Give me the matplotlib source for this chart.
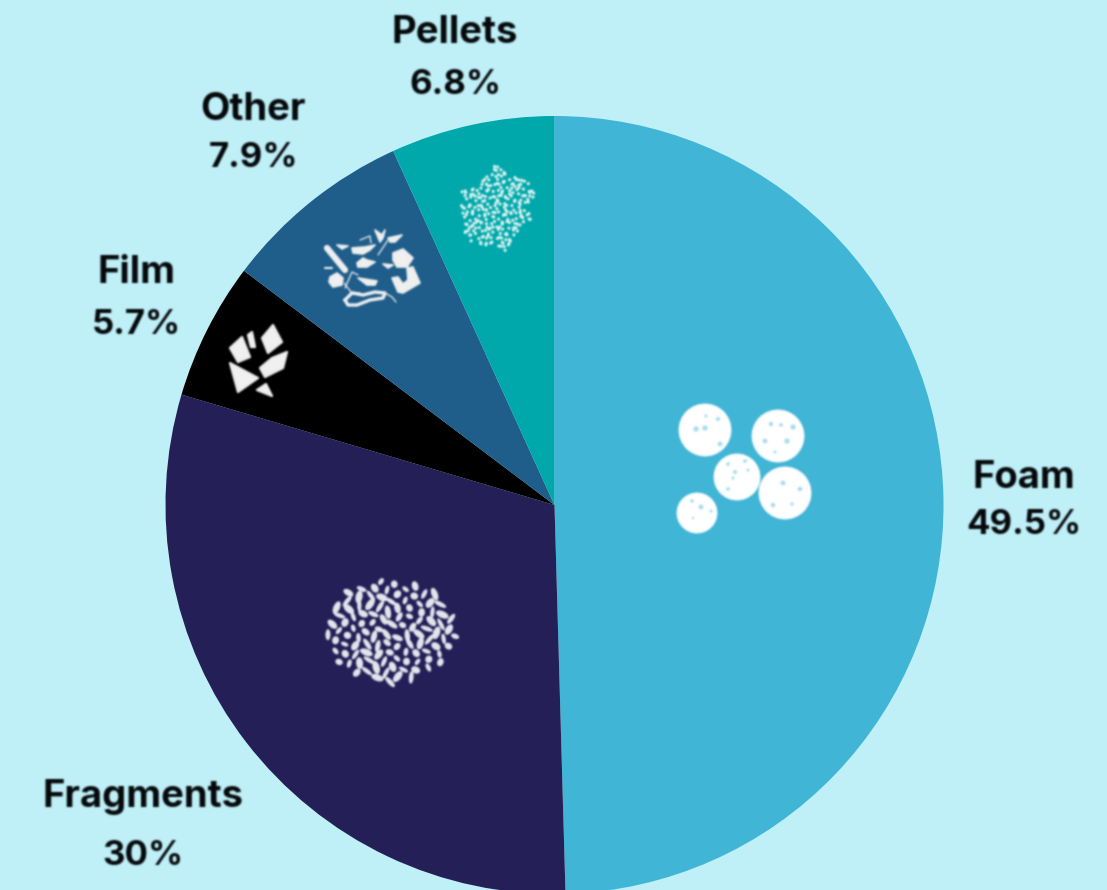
import numpy as np
import matplotlib
matplotlib.use('Agg')
import matplotlib.pyplot as plt
from matplotlib.collections import PatchCollection, LineCollection
from matplotlib.patches import Circle, Ellipse, Polygon
from matplotlib.path import Path

categories = ['Foam', 'Fragments', 'Film', 'Other', 'Pellets']
shares = [49.5, 30, 5.7, 7.9, 6.8]
share_labels = ['49.5%', '30%', '5.7%', '7.9%', '6.8%']
colors = ['#40b5d6', '#241f57', '#000000', '#1f5e8b', '#00a8ab']

bg = '#bff0f8'
ink = '#05080a'
chip = '#f0f0f0'


# the reference is a soft upscaled picture, so text and icons get a small blur
def soft(img, dpi):
    pad = 4
    a = np.pad(img[:, :, 3], pad)
    rgb = img[:, :, :3].reshape(-1, 3)[img[:, :, 3].ravel().argmax()]
    for axis in (0, 1):
        a = sum(w * np.roll(a, s, axis) for s, w in
                zip([-2, -1, 0, 1, 2], [0.05, 0.24, 0.42, 0.24, 0.05]))
    out = np.zeros(a.shape + (4,))
    out[:, :, :3] = rgb
    out[:, :, 3] = a
    return out, -pad, -pad


def add_patches(patches, color, lw=0.6):
    pc = PatchCollection(patches, facecolor=color, edgecolor=color, linewidth=lw)
    pc.set_agg_filter(soft)
    ax.add_collection(pc, autolim=False)


# axes run in image pixels, y pointing down
fig = plt.figure(figsize=(11.07, 8.90), dpi=100, facecolor=bg)
ax = fig.add_axes([0, 0, 1, 1])
ax.pie(shares, colors=colors, startangle=-90, counterclock=True,
       center=(554.5, 505), radius=389, wedgeprops={'linewidth': 0})
ax.set_xlim(0, 1107)
ax.set_ylim(890, 0)
ax.set_aspect('equal')
ax.axis('off')

# labels
name_pos = [(1024, 478), (143, 797), (136, 273), (253, 110), (455, 33)]
value_pos = [(1024, 525), (143, 856), (136, 325), (253, 158), (455, 85)]
for name, val, np_, vp in zip(categories, share_labels, name_pos, value_pos):
    for pos, s, size in ((np_, name, 27.5), (vp, val, 25)):
        t = ax.text(pos[0], pos[1], s, ha='center', va='center', fontsize=size,
                    family='Inter', weight='bold', color=ink)
        t.set_agg_filter(soft)

# foam icon
foam_balls = [(705, 430, 26), (778, 436, 26), (737, 477, 23), (785, 493, 26), (697, 513, 20)]
foam_specks = [(705, 428, 2.6), (696, 429, 2.6), (718, 419, 2), (720, 444, 2.4), (706, 416, 1.6),
               (771, 424, 2.2), (781, 425, 1.8), (765, 441, 2.4), (787, 441, 2.6), (793, 427, 2.6),
               (775, 452, 1.5), (735, 472, 2), (728, 464, 1.8), (745, 461, 1.8), (748, 470, 1.5),
               (728, 489, 1.8), (733, 478, 1.5), (783, 483, 2.4), (800, 489, 2.2), (773, 505, 2.2),
               (792, 504, 1.6), (701, 507, 2.4), (692, 501, 1.8), (711, 511, 1.5), (693, 518, 1.2)]
add_patches([Circle((x, y), r) for x, y, r in foam_balls], 'white')
add_patches([Circle((x, y), r) for x, y, r in foam_specks], '#a5dcee', lw=0)

# film icon
film_chips = [
    [(230, 348), (242, 337), (250, 357), (238, 362)],
    [(248, 335), (252, 332), (255, 347), (251, 347)],
    [(262, 338), (273, 325), (282, 342), (268, 353)],
    [(260, 368), (272, 358), (287, 352), (283, 368), (265, 377)],
    [(230, 363), (258, 378), (238, 392)],
    [(257, 390), (266, 384), (272, 396)],
]
add_patches([Polygon(p, closed=True) for p in film_chips], chip, lw=1.6)

# other icon: odd shapes and strings
other_polys = [
    [(375, 230), (382, 235), (385, 230), (383, 238), (380, 242)],
    [(388, 238), (402, 235), (395, 242), (390, 242)],
    [(352, 248), (365, 247), (375, 245), (370, 250), (363, 254), (353, 253)],
    [(337, 245), (348, 246), (342, 249)],
    [(357, 263), (363, 258), (367, 260), (375, 262), (367, 267), (358, 267)],
    [(393, 253), (403, 249), (413, 258), (407, 267), (397, 267), (393, 260)],
    [(383, 264), (393, 265), (388, 268)],
    [(330, 277), (337, 273), (343, 278), (342, 285), (333, 287), (329, 282)],
    [(358, 278), (377, 281), (375, 285), (367, 285)],
    [(392, 278), (398, 277), (403, 284), (408, 280), (407, 268), (413, 267), (420, 283), (403, 293), (398, 292)],
]
add_patches([Polygon(p, closed=True) for p in other_polys], chip, lw=1.2)
other_strokes = [
    [(327, 248), (345, 270)],
    [(325, 268), (332, 268)],
    [(345, 288), (352, 272), (358, 275)],
    [(344, 283), (351, 292), (360, 293)],
    [(378, 255), (388, 240)],
    [(360, 240), (370, 236), (371, 243)],
    [(385, 293), (392, 297), (396, 302)],
    [(345, 300), (352, 293), (363, 295), (375, 292), (385, 293), (383, 298),
     (370, 300), (357, 305), (348, 305), (345, 300)],
]
strokes = LineCollection(other_strokes, colors=chip, capstyle='round',
                         linewidths=[4.5, 1.5, 0.9, 0.9, 0.9, 0.9, 0.9, 2.4])
strokes.set_agg_filter(soft)
ax.add_collection(strokes, autolim=False)

# pellets icon: dots inside a rough star outline
star = Path([(496, 163), (510, 175), (522, 178), (538, 191), (527, 205), (531, 222),
             (515, 233), (508, 254), (490, 246), (464, 245), (463, 218), (459, 192),
             (478, 186), (496, 163)])
golden = np.pi * (3 - np.sqrt(5))
pellets = []
for i in range(1, 340):
    a = i * golden + 0.5 * np.sin(i * 12.9898)
    d = 2.35 * np.sqrt(i) + 1.2 * np.sin(i * 4.1414)
    p = (498 + d * np.cos(a), 208 + d * np.sin(a))
    if star.contains_point(p):
        pellets.append(Circle(p, 1.55))
add_patches(pellets, '#e8f7f5', lw=0)

# fragments icon: leaning flakes in an oval
flakes = []
for i in range(1, 112):
    a, d = i * golden, np.sqrt(i / 112)
    w = 10.5 + 3 * np.sin(i * 7.233)
    h = 5.6 + 1.4 * np.sin(i * 3.117)
    tilt = 75 + 55 * np.sin(i * 5.871)
    flakes.append(Ellipse((391 + 65 * d * np.cos(a), 631 + 52 * d * np.sin(a)), w, h, angle=tilt))
add_patches(flakes, '#e6e6ee', lw=0)

fig.savefig('out.png', dpi=100, facecolor=bg)
